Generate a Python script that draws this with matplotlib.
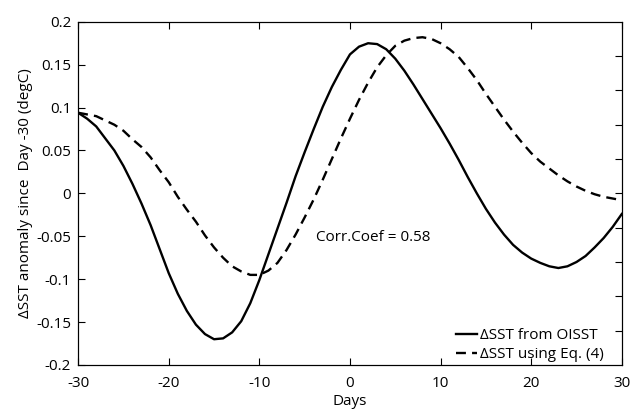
import numpy as np
import matplotlib
matplotlib.use("Agg")
import matplotlib.pyplot as plt

plt.rcParams['font.family'] = ['Open Sans', 'DejaVu Sans']

# values, one per day
days = list(range(-30, 31))
sst_obs = [0.094, 0.087, 0.078, 0.064, 0.050, 0.032, 0.011, -0.012, -0.037,
           -0.065, -0.093, -0.117, -0.137, -0.153, -0.164, -0.170, -0.169,
           -0.162, -0.149, -0.128, -0.101, -0.071, -0.041, -0.011, 0.020,
           0.048, 0.075, 0.101, 0.124, 0.144, 0.162, 0.171, 0.175, 0.174,
           0.168, 0.157, 0.143, 0.127, 0.110, 0.093, 0.076, 0.058, 0.039,
           0.019, 0.000, -0.018, -0.034, -0.048, -0.060, -0.069, -0.076,
           -0.081, -0.085, -0.087, -0.085, -0.080, -0.073, -0.063, -0.052,
           -0.039, -0.024]
sst_eq = [0.094, 0.092, 0.090, 0.085, 0.080, 0.073, 0.063, 0.054, 0.042,
          0.027, 0.013, -0.004, -0.019, -0.033, -0.049, -0.063, -0.075,
          -0.085, -0.091, -0.095, -0.095, -0.090, -0.081, -0.066, -0.048,
          -0.028, -0.007, 0.016, 0.040, 0.064, 0.087, 0.109, 0.129, 0.147,
          0.161, 0.172, 0.178, 0.181, 0.182, 0.180, 0.175, 0.168, 0.159,
          0.146, 0.132, 0.116, 0.101, 0.086, 0.072, 0.059, 0.047, 0.037,
          0.029, 0.021, 0.014, 0.008, 0.003, -0.001, -0.004, -0.006, -0.008]

xticks = [-30, -20, -10, 0, 10, 20, 30]
yticks = [-0.2, -0.15, -0.1, -0.05, 0, 0.05, 0.1, 0.15, 0.2]
ytick_labels = ['-0.2', '-0.15', '-0.1', '-0.05', '0', '0.05', '0.1', '0.15', '0.2']
# the right-hand axis carries its own, unlabelled ticks
yticks_right = [-0.16, -0.12, -0.08, -0.04, 0, 0.04, 0.08, 0.12, 0.16]

fig = plt.figure(figsize=(6.3, 4.11), dpi=100)
ax = fig.add_axes([0.124, 0.112, 0.863, 0.835])

ax.plot(days, sst_obs, color='black', lw=1.7, label='ΔSST from OISST')
ax.plot(days, sst_eq, color='black', lw=1.7, dashes=(4.2, 2.6),
        label='ΔSST using Eq. (4)')

ax.set_xlim(-30, 30)
ax.set_ylim(-0.2, 0.2)
ax.set_xticks(xticks)
ax.set_xticklabels([str(t) for t in xticks])
ax.set_yticks(yticks)
ax.set_yticklabels(ytick_labels)
ax.tick_params(direction='in', top=True, right=False, length=5, width=0.8,
               labelsize=11, pad=5)
ax.tick_params(axis='x', pad=8)
for s in ax.spines.values():
    s.set_linewidth(0.8)

ax2 = ax.twinx()
ax2.set_ylim(-0.2, 0.2)
ax2.set_yticks(yticks_right)
ax2.tick_params(direction='in', length=5, width=0.8, labelright=False)
for s in ax2.spines.values():
    s.set_linewidth(0.8)

ax.set_xlabel('Days', fontsize=11, labelpad=2)
ax.set_ylabel('ΔSST anomaly since  Day -30 (degC)', fontsize=11, labelpad=2)

ax.text(-3.8, -0.052, 'Corr.Coef = 0.58', fontsize=11, va='center', ha='left')

ax.legend(loc='lower right', frameon=False, fontsize=11, handlelength=1.4,
          handletextpad=0.2, borderaxespad=0.3, labelspacing=0.25,
          bbox_to_anchor=(1 - 7 / 544, -8 / 343))

fig.savefig('out.png', dpi=100)
